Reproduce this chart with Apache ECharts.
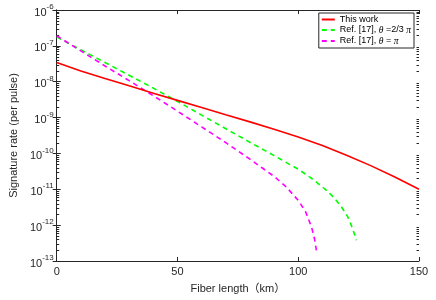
<!DOCTYPE html>
<html><head><meta charset="utf-8">
<script src="https://cdn.jsdelivr.net/npm/echarts@6/dist/echarts.min.js"></script>
<style>html,body{margin:0;padding:0;background:#fff}#c{width:436px;height:300px}</style>
</head><body><div id="c"></div>
<script>
// Fiber length (km) and signature rate (per pulse)
const redKm = [0, 10, 20, 30, 40, 50, 60, 70, 80, 90, 100, 110, 120, 130, 140, 150];
const redRate = [3.43e-8, 2.00e-8, 1.23e-8, 7.67e-9, 4.79e-9, 3.02e-9, 1.91e-9, 1.20e-9, 7.59e-10, 4.73e-10, 2.88e-10, 1.66e-10, 8.91e-11, 4.57e-11, 2.19e-11, 1.0e-11];
const greenKm = [0, 10, 20, 30, 40, 50, 60, 70, 80, 90, 100, 105, 110, 112.5, 115, 118, 120.5, 121.5, 122.5, 123.3, 124];
const greenRate = [1.78e-7, 7.76e-8, 3.43e-8, 1.51e-8, 6.61e-9, 2.82e-9, 1.17e-9, 4.90e-10, 2.04e-10, 8.71e-11, 3.63e-11, 2.14e-11, 1.17e-11, 8.32e-12, 5.62e-12, 3.16e-12, 1.70e-12, 1.20e-12, 7.94e-13, 5.62e-13, 3.80e-13];
const magentaKm = [0, 10, 20, 30, 40, 50, 60, 70, 80, 85, 90, 95, 100, 103, 105.5, 106.8, 107.6];
const magentaRate = [1.91e-7, 7.24e-8, 2.75e-8, 1.07e-8, 4.07e-9, 1.51e-9, 5.50e-10, 2.00e-10, 6.92e-11, 3.98e-11, 2.29e-11, 1.17e-11, 4.90e-12, 2.40e-12, 8.91e-13, 3.98e-13, 1.82e-13];
const seriesNames = ['This work', 'Ref. [17], θ =2/3 π', 'Ref. [17], θ = π'];
const yMin = 1e-13, yMax = 1e-6;
const minorMantissas = [2, 3, 4, 5, 6, 7, 8, 9];
const decades = [1e-13, 1e-12, 1e-11, 1e-10, 1e-9, 1e-8, 1e-7];

const minorVals = [];
decades.forEach(d => minorMantissas.forEach(m => minorVals.push([m * d])));

const pair = (xs, ys) => xs.map((x, i) => [x, ys[i]]);
const FONT = 'Liberation Sans, Arial, Noto Sans CJK SC, sans-serif';
const AX = '#262626';

const chart = echarts.init(document.getElementById('c'), null, {renderer: 'canvas'});
chart.setOption({
  animation: false,
  backgroundColor: '#fff',
  grid: {left: 52, right: 17, top: 10, bottom: 39, containLabel: false},
  legend: {
    data: seriesNames,
    orient: 'vertical',
    right: 22, top: 13,
    itemWidth: 13, itemHeight: 10, itemGap: 1,
    padding: [2, 3, 2, 2],
    borderColor: AX, borderWidth: 1,
    backgroundColor: '#fff',
    itemStyle: {opacity: 0},
    textStyle: {fontFamily: FONT, fontSize: 9, color: '#000',
      rich: {i: {fontFamily: 'Liberation Serif, DejaVu Serif, serif', fontStyle: 'italic', fontSize: 9.5, color: '#000'}}},
    formatter: n => n.replace(/θ/g, '{i|θ}').replace(/π/g, '{i|π}')
  },
  xAxis: [{
    type: 'value', min: 0, max: 150, interval: 50,
    name: 'Fiber length（km）', nameLocation: 'middle', nameGap: 22,
    nameTextStyle: {fontFamily: FONT, fontSize: 11, color: '#262626'},
    axisLine: {show: true, lineStyle: {color: AX, width: 1}},
    axisTick: {show: true, inside: true, length: 4, lineStyle: {color: AX}},
    axisLabel: {fontFamily: FONT, fontSize: 11, color: '#262626', margin: 5},
    splitLine: {show: false}
  }, {
    type: 'value', min: 0, max: 150, interval: 50, position: 'top',
    axisLine: {show: true, lineStyle: {color: AX, width: 1}},
    axisTick: {show: true, inside: true, length: 4, lineStyle: {color: AX}},
    axisLabel: {show: false}, splitLine: {show: false}
  }],
  yAxis: [{
    type: 'log', logBase: 10, min: yMin, max: yMax, interval: 1,
    name: 'Signature rate (per pulse)', nameLocation: 'middle', nameGap: 34, nameRotate: 90,
    nameTextStyle: {fontFamily: FONT, fontSize: 11, color: '#262626'},
    axisLine: {show: true, lineStyle: {color: AX, width: 1}},
    axisTick: {show: true, inside: true, length: 4, lineStyle: {color: AX}},
    axisLabel: {
      margin: 3, color: '#262626',
      formatter: v => '{b|10}{s|' + Math.round(Math.log10(v)) + '}',
      rich: {
        b: {fontFamily: FONT, fontSize: 11, color: '#262626', padding: [5, 0, 0, 0]},
        s: {fontFamily: FONT, fontSize: 8, color: '#262626', padding: [0, 0, 6, 0]}
      }
    },
    splitLine: {show: false}
  }, {
    type: 'log', logBase: 10, min: yMin, max: yMax, interval: 1, position: 'right',
    axisLine: {show: true, lineStyle: {color: AX, width: 1}},
    axisTick: {show: true, inside: true, length: 4, lineStyle: {color: AX}},
    axisLabel: {show: false}, splitLine: {show: false}
  }],
  series: [
    {name: seriesNames[0], type: 'line', data: pair(redKm, redRate), showSymbol: false, symbol: 'none',
      smooth: false,
      lineStyle: {color: '#ff0000', width: 1.6}, itemStyle: {color: '#ff0000'}, z: 5},
    {name: seriesNames[1], type: 'line', data: pair(greenKm, greenRate), showSymbol: false, symbol: 'none',
      smooth: false,
      lineStyle: {color: '#00ff00', width: 1.6, type: [5, 4]}, itemStyle: {color: '#00ff00'}, z: 4},
    {name: seriesNames[2], type: 'line', data: pair(magentaKm, magentaRate), showSymbol: false, symbol: 'none',
      smooth: false,
      lineStyle: {color: '#ff00ff', width: 1.6, type: [5, 4]}, itemStyle: {color: '#ff00ff'}, z: 4},
    {name: 'minor', type: 'custom', data: minorVals, silent: true, z: 3,
      encode: {y: 0},
      renderItem: (params, api) => {
        const v = api.value(0);
        const l = api.coord([0, v]);
        const r = api.coord([150, v]);
        const st = {stroke: AX, lineWidth: 1};
        return {type: 'group', children: [
          {type: 'line', shape: {x1: l[0], y1: Math.round(l[1]) + 0.5, x2: l[0] + 2.5, y2: Math.round(l[1]) + 0.5}, style: st},
          {type: 'line', shape: {x1: r[0], y1: Math.round(r[1]) + 0.5, x2: r[0] - 2.5, y2: Math.round(r[1]) + 0.5}, style: st}
        ]};
      }
    }
  ]
});
</script></body></html>
